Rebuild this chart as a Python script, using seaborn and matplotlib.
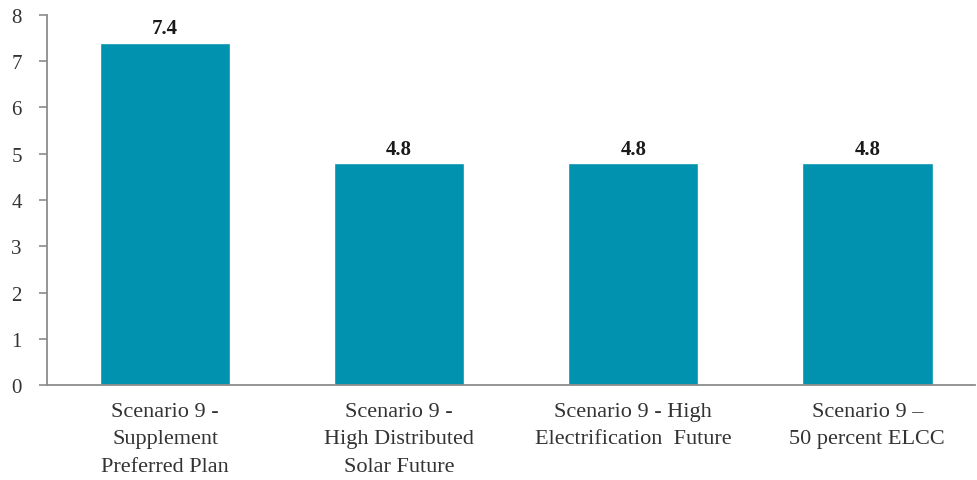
import matplotlib
matplotlib.use("Agg")
import matplotlib.pyplot as plt
import seaborn as sns
import pandas as pd

# chart data
scenarios = [
    "Scenario 9 -\nSupplement\nPreferred Plan",
    "Scenario 9 -\nHigh Distributed\nSolar Future",
    "Scenario 9 - High\nElectrification  Future",
    "Scenario 9 \u2013\n50 percent ELCC",
]
values = [7.4, 4.8, 4.8, 4.8]
value_labels = ["7.4", "4.8", "4.8", "4.8"]
y_ticks = [0, 1, 2, 3, 4, 5, 6, 7, 8]

df = pd.DataFrame({"scenario": scenarios, "value": values})

sns.set_theme(style="white")
plt.rcParams["font.family"] = ["Liberation Serif", "DejaVu Serif"]

fig = plt.figure(figsize=(9.77, 4.81), dpi=100)
ax = fig.add_axes([0.048, 0.197, 0.95, 0.770])

sns.barplot(data=df, x="scenario", y="value", color="#0092AF",
            saturation=1, width=0.557, ax=ax)

# value labels above bars
for i, (v, lab) in enumerate(zip(values, value_labels)):
    ax.annotate(lab, (i, v), xytext=(0, 3), textcoords="offset points",
                ha="center", va="bottom", fontsize=15, fontweight="bold",
                color="#1a1a1a")

ax.set_ylim(0, 8)
ax.set_xlim(-0.505, 3.46)
ax.set_yticks(y_ticks)
ax.set_xticks(range(len(scenarios)))
ax.set_xticklabels(scenarios, linespacing=1.6)
ax.set_xlabel("")
ax.set_ylabel("")

for side in ["top", "right"]:
    ax.spines[side].set_visible(False)
for side in ["left", "bottom"]:
    ax.spines[side].set_color("#8c8c8c")
    ax.spines[side].set_linewidth(1.3)

ax.tick_params(axis="y", which="both", left=True, length=6, width=1.2,
               color="#8c8c8c", labelsize=15, labelcolor="#333333", pad=12)
ax.tick_params(axis="x", bottom=False, labelsize=16, labelcolor="#333333", pad=6)

fig.savefig("out.png", dpi=100)
